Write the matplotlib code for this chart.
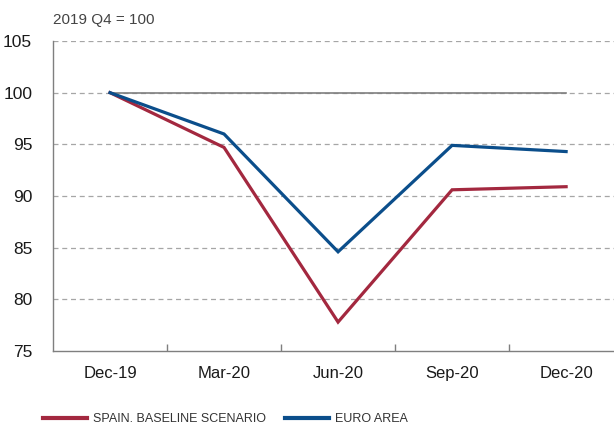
import matplotlib
matplotlib.use("Agg")
import matplotlib.pyplot as plt

# Quarterly GDP index, 2019 Q4 = 100
quarters = ["Dec-19", "Mar-20", "Jun-20", "Sep-20", "Dec-20"]
spain = [100.0, 94.7, 77.8, 90.6, 90.9]
euro_area = [100.0, 96.0, 84.6, 94.9, 94.3]
y_ticks = [75, 80, 85, 90, 95, 100, 105]

red = "#A3283F"
blue = "#0B4E8B"
grid_col = "#A6A6A6"
axis_col = "#7F7F7F"

plt.rcParams["font.family"] = ["Liberation Sans", "DejaVu Sans"]

fig = plt.figure(figsize=(6.14, 4.25), dpi=100)
ax = fig.add_axes([53 / 614, 1 - 351 / 425, 561 / 614, 310 / 425])

x = list(range(len(quarters)))

# dashed gridlines
for t in y_ticks[1:]:
    ax.axhline(t, color=grid_col, lw=0.9, ls=(0, (4, 3)), zorder=1)
# solid reference line at 100 across the data range
ax.plot([x[0], x[-1]], [100, 100], color=axis_col, lw=1.2, zorder=2)

l1, = ax.plot(x, spain, color=red, lw=2.3, label="SPAIN. BASELINE SCENARIO", zorder=3,
              solid_joinstyle="miter")
l2, = ax.plot(x, euro_area, color=blue, lw=2.3, label="EURO AREA", zorder=4,
              solid_joinstyle="miter")

ax.set_xlim(-0.5, 4.42)
ax.set_ylim(75, 105)
ax.set_yticks(y_ticks)
ax.set_yticklabels([str(t) for t in y_ticks], fontsize=12.5, color="#1A1A1A")
ax.set_xticks(x)
ax.set_xticklabels(quarters, fontsize=12, color="#1A1A1A")
ax.set_xticks([i + 0.5 for i in x[:-1]], minor=True)
ax.tick_params(axis="x", which="major", length=0, pad=11)
ax.tick_params(axis="x", which="minor", length=5, direction="in", color=axis_col, width=1)
ax.tick_params(axis="y", length=0, pad=15)

for s in ["top", "right"]:
    ax.spines[s].set_visible(False)
ax.spines["left"].set_color(axis_col)
ax.spines["bottom"].set_color(axis_col)
ax.spines["left"].set_linewidth(1)
ax.spines["bottom"].set_linewidth(1)

fig.text(53 / 614, 1 - 20 / 425, "2019 Q4 = 100", fontsize=11, color="#444444",
         va="center", ha="left")

# legend entries placed separately, as in the original layout
legend_x = [43 / 614, 285 / 614]
for handle, lx in zip([l1, l2], legend_x):
    leg = fig.legend(handles=[handle], loc="center left",
                     bbox_to_anchor=(lx, 1 - 419 / 425),
                     frameon=False, handlelength=3.5, handletextpad=0.5,
                     borderaxespad=0, borderpad=0,
                     prop={"size": 9})
    for h in leg.get_lines():
        h.set_linewidth(3)
    for t in leg.get_texts():
        t.set_color("#333333")

fig.savefig("out.png", dpi=100)
